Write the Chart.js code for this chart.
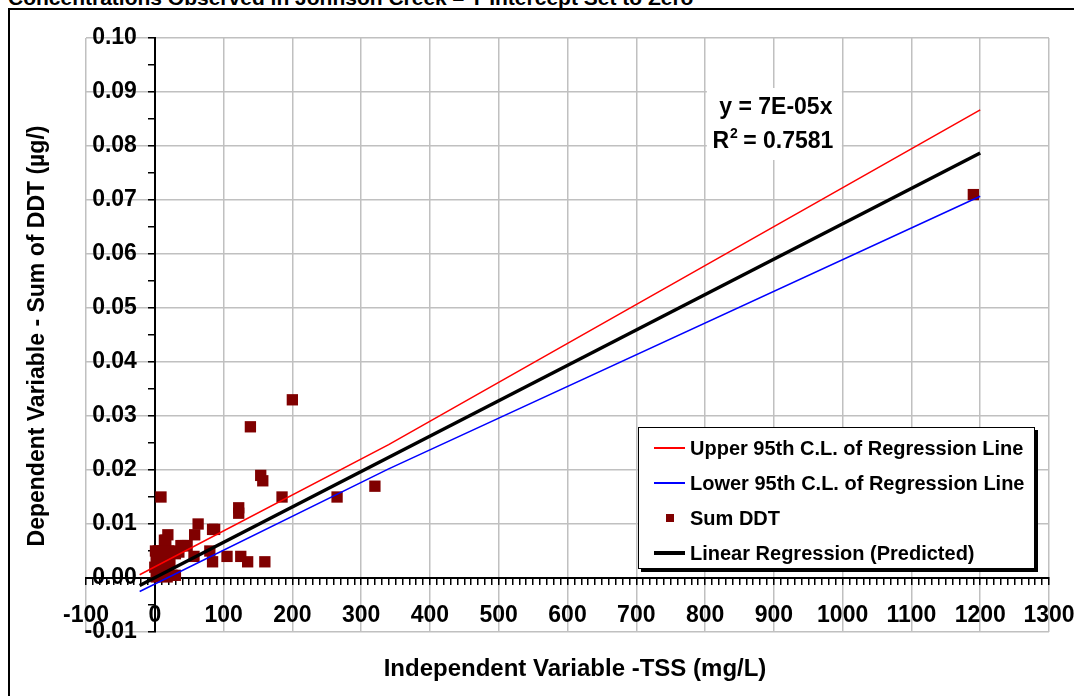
<!DOCTYPE html>
<html>
<head>
<meta charset="utf-8">
<script src="https://cdn.jsdelivr.net/npm/chart.js@4"></script>
<style>
  body { margin: 0; width: 1074px; height: 696px; overflow: hidden; background: #fff; position: relative; font-family: 'Liberation Sans', Arial, sans-serif; }
  #title { position: absolute; left: 8px; top: -13px; font-size: 21px; line-height: 21px; font-weight: bold; white-space: nowrap; }
  #frame { position: absolute; left: 8px; top: 8px; width: 1100px; height: 800px; border: 2px solid #000; }
  #chart { position: absolute; left: 0; top: 0; }
  #legend { position: absolute; left: 638px; top: 427px; width: 395px; height: 140px; border: 1.5px solid #000; background: #fff; box-shadow: 3px 3px 0 #000; }
  .row { position: absolute; left: 0; height: 24px; display: flex; align-items: center; font-size: 20px; font-weight: bold; }
  .sample { width: 31px; margin-left: 15px; margin-right: 5px; display: flex; justify-content: center; align-items: center; }
</style>
</head>
<body>
<div id="title">Concentrations Observed in Johnson Creek – Y Intercept Set to Zero</div>
<div id="frame"></div>
<canvas id="chart" width="1074" height="696"></canvas>
<div id="legend"></div>
<script>
// observed TSS (mg/L) and Sum DDT (µg/l)
const tss = [1, 5, 10, 15, 20, 26, 30, 35, 38, 45, 41, 47, 19, 16, 14, 58, 63, 9,
  2, 6, 12, 18, 22, 0, 3, 8, 15, 4, 10, 20, 25, 30, 2, 6, 12, 18,
  57, 80, 84, 84, 87, 105, 125, 135, 160, 122, 122, 139, 154, 157, 185, 200, 265, 320, 1190];
const ddt = [0.005, 0.005, 0.005, 0.005, 0.005, 0.005, 0.0045, 0.0048, 0.006, 0.006, 0.006, 0.006, 0.008, 0.007, 0.007, 0.008, 0.010, 0.015,
  0.004, 0.0035, 0.003, 0.003, 0.003, 0.002, 0.0025, 0.002, 0.0015, 0.001, 0.001, 0.001, 0.0005, 0.0005, 0.0002, 0.0003, 0.0004, 0.0002,
  0.004, 0.005, 0.003, 0.009, 0.009, 0.004, 0.004, 0.003, 0.003, 0.013, 0.012, 0.028, 0.019, 0.018, 0.015, 0.033, 0.015, 0.017, 0.071];

const upperX = [-22, 340, 1200];
const upperY = [0.0006, 0.0247, 0.0867];
const lowerX = [-22, 340, 1200];
const lowerY = [-0.0025, 0.0202, 0.0707];
const predX = [-22, 1200];
const predY = [-0.0014, 0.0787];

const eqText = 'y = 7E-05x';
const r2Text = ' = 0.7581';

const xMin = -100, xMax = 1300, xMajor = 100, xMinor = 10;
const yMin = -0.01, yMax = 0.10, yMajor = 0.01, yMinor = 0.005;

const pts = (xs, ys) => xs.map((x, i) => ({ x: x, y: ys[i] }));
const FONT = "'Liberation Sans', Arial, sans-serif";
const isMajorX = v => Math.abs(v / xMajor - Math.round(v / xMajor)) < 1e-6;
const isMajorY = v => Math.abs(v / yMajor - Math.round(v / yMajor)) < 1e-6;
const noPad = s => { s.paddingLeft = 0; s.paddingRight = 0; s.paddingTop = 0; s.paddingBottom = 0; };
const tickFont = { family: FONT, size: 23, weight: 'bold' };

const extras = {
  id: 'extras',
  beforeDatasetsDraw(chart) {
    const { ctx, scales } = chart;
    // white box behind the equation
    const cx = scales.x.getPixelForValue(900);
    ctx.save();
    ctx.fillStyle = '#fff';
    ctx.fillRect(cx - 67, 88, 135, 72);
    ctx.fillStyle = '#000';
    ctx.font = 'bold 23px ' + FONT;
    ctx.textAlign = 'center';
    ctx.textBaseline = 'alphabetic';
    ctx.fillText(eqText, cx + 2, 114);
    // R² with superscript
    const wR = ctx.measureText('R').width, wRest = ctx.measureText(r2Text).width;
    ctx.font = 'bold 14px ' + FONT;
    const w2 = ctx.measureText('2').width;
    const start = cx - 1 - (wR + w2 + wRest) / 2;
    ctx.textAlign = 'left';
    ctx.fillText('2', start + wR + 1, 138);
    ctx.font = 'bold 23px ' + FONT;
    ctx.fillText('R', start, 148);
    ctx.fillText(r2Text, start + wR + w2, 148);
    ctx.restore();
  },
  afterDraw(chart) {
    const ctx = chart.ctx;
    ctx.save();
    ctx.fillStyle = '#000';
    ctx.textAlign = 'center';
    ctx.textBaseline = 'middle';
    ctx.font = 'bold 24px ' + FONT;
    ctx.fillText('Independent Variable -TSS (mg/L)', 575, 669);
    ctx.font = 'bold 23px ' + FONT;
    ctx.translate(38, 336);
    ctx.rotate(-Math.PI / 2);
    ctx.fillText('Dependent Variable - Sum of DDT (µg/)', 0, 0);
    ctx.restore();
  }
};

const chart = new Chart(document.getElementById('chart'), {
  type: 'scatter',
  data: {
    datasets: [
      { label: 'Upper 95th C.L. of Regression Line', data: pts(upperX, upperY), showLine: true, yAxisID: 'y',
        borderColor: '#ff0000', backgroundColor: '#ff0000', borderWidth: 1.5, pointRadius: 0, order: 1 },
      { label: 'Lower 95th C.L. of Regression Line', data: pts(lowerX, lowerY), showLine: true, yAxisID: 'y',
        borderColor: '#0000ff', backgroundColor: '#0000ff', borderWidth: 1.5, pointRadius: 0, order: 1 },
      { label: 'Sum DDT', data: pts(tss, ddt), pointStyle: 'rect', pointRadius: 8, yAxisID: 'y',
        backgroundColor: '#800000', borderColor: '#800000', borderWidth: 0, order: 10 },
      { label: 'Linear Regression (Predicted)', data: pts(predX, predY), showLine: true, yAxisID: 'y',
        borderColor: '#000', backgroundColor: '#000', borderWidth: 3.5, pointRadius: 0, order: 0 }
    ]
  },
  options: {
    responsive: false,
    animation: false,
    layout: { padding: { left: 86, top: 38, right: 25, bottom: 64 } },
    plugins: { legend: { display: false }, tooltip: { enabled: false } },
    scales: {
      y: {
        type: 'linear', axis: 'y', min: yMin, max: yMax, position: { x: 0 },
        afterFit: noPad,
        ticks: { stepSize: yMinor, autoSkip: false, display: false },
        grid: {
          color: c => c.tick && isMajorY(c.tick.value) ? '#c0c0c0' : 'rgba(0,0,0,0)',
          lineWidth: 1.5, tickColor: '#000', tickLength: 6, tickWidth: 1.5
        },
        border: { color: '#000', width: 2 }
      },
      yLabels: {
        type: 'linear', axis: 'y', min: yMin, max: yMax, position: { x: -26 },
        afterFit: noPad,
        ticks: {
          stepSize: yMinor, autoSkip: false, color: '#000', font: tickFont,
          callback: v => isMajorY(v) ? (Math.round(v * 100) / 100).toFixed(2) : ''
        },
        grid: { display: false },
        border: { display: false }
      },
      x: {
        type: 'linear', axis: 'x', min: xMin, max: xMax, position: { y: 0 },
        afterFit: noPad,
        ticks: {
          stepSize: xMinor, autoSkip: false, maxRotation: 0, padding: 18, color: '#000', font: tickFont,
          callback: v => isMajorX(v) ? String(Math.round(v)) : ''
        },
        grid: {
          color: c => c.tick && isMajorX(c.tick.value) ? '#c0c0c0' : 'rgba(0,0,0,0)',
          lineWidth: 1.5, tickColor: '#000', tickLength: 6, tickWidth: 1.5
        },
        border: { color: '#000', width: 2 }
      }
    }
  },
  plugins: [extras]
});

// legend box built from the datasets
const legend = document.getElementById('legend');
chart.data.datasets.forEach((ds, i) => {
  const row = document.createElement('div');
  row.className = 'row';
  row.style.top = (8 + i * 35) + 'px';
  const sample = document.createElement('div');
  sample.className = 'sample';
  const mark = document.createElement('div');
  if (ds.showLine) {
    mark.style.width = '31px';
    mark.style.height = Math.max(2, Math.round(ds.borderWidth)) + 'px';
    mark.style.background = ds.borderColor;
  } else {
    mark.style.width = '8px';
    mark.style.height = '8px';
    mark.style.background = ds.backgroundColor;
  }
  sample.appendChild(mark);
  const text = document.createElement('span');
  text.textContent = ds.label;
  row.appendChild(sample);
  row.appendChild(text);
  legend.appendChild(row);
});
</script>
</body>
</html>
